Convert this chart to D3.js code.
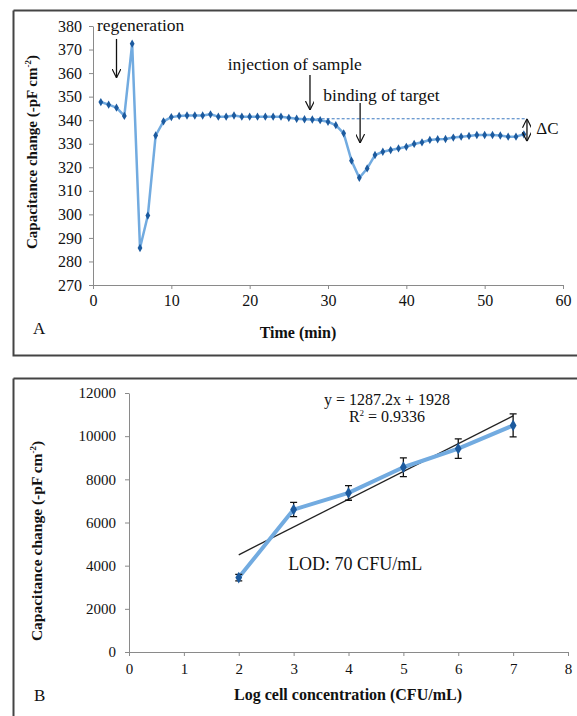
<!DOCTYPE html>
<html>
<head>
<meta charset="utf-8">
<script src="https://cdn.jsdelivr.net/npm/d3@7"></script>
<style>
	body { margin: 0; background: #fff; }
	svg text { font-family: "Liberation Serif", "Times New Roman", serif; fill: #111; }
</style>
</head>
<body>
<svg id="chart" width="577" height="716"></svg>
<script>
'use strict';

// Panel A: capacitance vs time
var timeMin = [1,2,3,4,5,6,7,8,9,10,11,12,13,14,15,16,17,18,19,20,21,22,23,24,25,26,27,28,
	29,30,31,32,33,34,35,36,37,38,39,40,41,42,43,44,45,46,47,48,49,50,51,52,53,54,55];
var capA = [347.7,346.6,345.3,341.8,372.5,285.7,299.5,333.5,339.5,341.3,341.8,342,342,342,342.5,
	341.5,341.5,342,341.5,341.5,341.5,341.5,341.5,341.5,341,340.6,340.4,340.3,340,339.3,337.9,
	334.4,322.8,315.5,319.5,325.2,326.6,327.3,328,328.7,329.9,330.6,331.6,331.9,332,332.6,333,
	333.3,333.7,333.7,333.7,333.5,333,333,334];
var ticksA_x = [0,10,20,30,40,50,60];
var ticksA_y = [270,280,290,300,310,320,330,340,350,360,370,380];
var baselineA = 340.6;     // dashed reference level
var baselineSpan = [26, 55.4];

// Panel B: calibration
var logConc = [2,3,4,5,6,7];
var capB = [3450,6600,7370,8560,9420,10500];
var errB = [150,330,340,430,450,530];
var ticksB_x = [0,1,2,3,4,5,6,7,8];
var ticksB_y = [0,2000,4000,6000,8000,10000,12000];
var fitSlope = 1287.2, fitIntercept = 1928;

var svg = d3.select('#chart');
var AXIS = '#8a8a8a', LINE = '#72abe0', MARK = '#1c5a9e';

// arrow head marker
var defs = svg.append('defs');
defs.append('marker')
	.attr('id','arrow')
	.attr('viewBox','0 0 10 10')
	.attr('refX',10).attr('refY',5)
	.attr('markerWidth',9).attr('markerHeight',9)
	.attr('markerUnits','userSpaceOnUse')
	.attr('orient','auto-start-reverse')
	.append('path')
		.attr('d','M0,0 L10,5 L0,10')
		.attr('fill','none')
		.attr('stroke','#111')
		.attr('stroke-width',1.3);

// panel frames
svg.append('path').attr('d','M13.5,10.5 H577 M13.5,10.5 V355.5 H577')
	.attr('fill','none').attr('stroke','#444').attr('stroke-width',2);
svg.append('path').attr('d','M13.5,378.5 H577 M13.5,378.5 V716')
	.attr('fill','none').attr('stroke','#444').attr('stroke-width',2);

function styleAxis(g, fontSize) {
	g.attr('font-family',null);
	g.select('.domain').attr('stroke',AXIS);
	g.selectAll('.tick line').attr('stroke',AXIS);
	g.selectAll('.tick text')
		.attr('font-size',fontSize).attr('fill','#222');
}

function yTitle(x, y, size) {
	var t = svg.append('text')
		.attr('transform','translate('+x+','+y+') rotate(-90)')
		.attr('text-anchor','middle')
		.attr('font-size',size).attr('font-weight','bold');
	t.append('tspan').text('Capacitance change (-pF cm');
	t.append('tspan').attr('font-size',9).attr('dy',-6).text('-2');
	t.append('tspan').attr('dy',6).text(')');
}

/***************************************
 * PANEL A
 ***************************************/
var xA = d3.scaleLinear().domain([0,60]).range([93,563]);
var yA = d3.scaleLinear().domain([270,380]).range([285,26]);

svg.append('g').attr('transform','translate(0,'+yA(270)+')')
	.call(d3.axisBottom(xA).tickValues(ticksA_x).tickSizeInner(4).tickSizeOuter(4).tickPadding(6))
	.call(styleAxis, 16);
svg.append('g').attr('transform','translate('+xA(0)+',0)')
	.call(d3.axisLeft(yA).tickValues(ticksA_y).tickSizeInner(4).tickSizeOuter(0).tickPadding(7))
	.call(styleAxis, 16);

// dashed reference
svg.append('line')
	.attr('x1',xA(baselineSpan[0])).attr('x2',xA(baselineSpan[1]))
	.attr('y1',yA(baselineA)).attr('y2',yA(baselineA))
	.attr('stroke','#3b78c0').attr('stroke-width',1).attr('stroke-dasharray','3,2');

var ptsA = timeMin.map(function(t,i){ return [t, capA[i]]; });
svg.append('path').datum(ptsA)
	.attr('fill','none').attr('stroke',LINE).attr('stroke-width',2.5)
	.attr('stroke-linejoin','round')
	.attr('d', d3.line().x(function(d){return xA(d[0]);}).y(function(d){return yA(d[1]);}));
svg.append('g').selectAll('path').data(ptsA).enter().append('path')
	.attr('d', d3.symbol(d3.symbolDiamond, 20))
	.attr('fill',MARK)
	.attr('transform',function(d){return 'translate('+xA(d[0])+','+yA(d[1])+')';});

// annotations
var notesA = [
	{text:'regeneration', tx:0.5, ty:377.9, ax:3.0, y1:374.5, y2:358},
	{text:'injection of sample', tx:17.2, ty:361.3, ax:27.7, y1:359.2, y2:344.3},
	{text:'binding of target', tx:29.4, ty:348.1, ax:34.1, y1:347.3, y2:330.3}
];
notesA.forEach(function(n) {
	svg.append('text').attr('x',xA(n.tx)).attr('y',yA(n.ty))
		.attr('font-size',17.5).text(n.text);
	svg.append('line')
		.attr('x1',xA(n.ax)).attr('x2',xA(n.ax))
		.attr('y1',yA(n.y1)).attr('y2',yA(n.y2))
		.attr('stroke','#111').attr('stroke-width',1.3)
		.attr('marker-end','url(#arrow)');
});
// delta C double arrow
svg.append('line')
	.attr('x1',xA(baselineSpan[1])).attr('x2',xA(baselineSpan[1]))
	.attr('y1',yA(baselineA)).attr('y2',yA(331))
	.attr('stroke','#111').attr('stroke-width',1.3)
	.attr('marker-start','url(#arrow)').attr('marker-end','url(#arrow)');
svg.append('text').attr('x',xA(56.6)).attr('y',yA(334.3))
	.attr('font-size',17).text('\u0394C');

yTitle(37, 152, 15);
svg.append('text').attr('x',298).attr('y',338).attr('text-anchor','middle')
	.attr('font-size',16).attr('font-weight','bold').text('Time (min)');
svg.append('text').attr('x',33).attr('y',334).attr('font-size',17).text('A');

/***************************************
 * PANEL B
 ***************************************/
var xB = d3.scaleLinear().domain([0,8]).range([129,568]);
var yB = d3.scaleLinear().domain([0,12000]).range([652,393]);

svg.append('g').attr('transform','translate(0,'+yB(0)+')')
	.call(d3.axisBottom(xB).tickValues(ticksB_x).tickSizeInner(4).tickSizeOuter(4).tickPadding(7))
	.call(styleAxis, 15);
svg.append('g').attr('transform','translate('+xB(0)+',0)')
	.call(d3.axisLeft(yB).tickValues(ticksB_y).tickFormat(d3.format('d'))
		.tickSizeInner(4).tickSizeOuter(0).tickPadding(9))
	.call(styleAxis, 15);

// linear fit
svg.append('line')
	.attr('x1',xB(logConc[0])).attr('y1',yB(fitSlope*logConc[0]+fitIntercept))
	.attr('x2',xB(logConc[logConc.length-1])).attr('y2',yB(fitSlope*logConc[logConc.length-1]+fitIntercept))
	.attr('stroke','#222').attr('stroke-width',1.3);

var ptsB = logConc.map(function(x,i){ return {x:x, y:capB[i], e:errB[i]}; });
svg.append('path').datum(ptsB)
	.attr('fill','none').attr('stroke',LINE).attr('stroke-width',4)
	.attr('stroke-linejoin','round')
	.attr('d', d3.line().x(function(d){return xB(d.x);}).y(function(d){return yB(d.y);}));

var eb = svg.append('g').selectAll('g').data(ptsB).enter().append('g');
eb.append('path')
	.attr('d',function(d){
		var x = xB(d.x), t = yB(d.y+d.e), b = yB(d.y-d.e);
		return 'M'+(x-3.5)+','+t+' H'+(x+3.5)+' M'+x+','+t+' V'+b+' M'+(x-3.5)+','+b+' H'+(x+3.5);
	})
	.attr('stroke','#111').attr('stroke-width',1.3).attr('fill','none');
eb.append('path')
	.attr('d', d3.symbol(d3.symbolDiamond, 40))
	.attr('fill',MARK)
	.attr('transform',function(d){return 'translate('+xB(d.x)+','+yB(d.y)+')';});

svg.append('text').attr('x',387).attr('y',yB(11450)).attr('text-anchor','middle')
	.attr('font-size',16).text('y = ' + fitSlope + 'x + ' + fitIntercept);
var r2 = svg.append('text').attr('x',387).attr('y',yB(10650)).attr('text-anchor','middle')
	.attr('font-size',16);
r2.append('tspan').text('R');
r2.append('tspan').attr('font-size',9).attr('dy',-6).text('2');
r2.append('tspan').attr('dy',6).text(' = 0.9336');

svg.append('text').attr('x',xB(2.9)).attr('y',yB(3800))
	.attr('font-size',18).text('LOD: 70 CFU/mL');

yTitle(42, 541, 15.5);
svg.append('text').attr('x',348).attr('y',700).attr('text-anchor','middle')
	.attr('font-size',16).attr('font-weight','bold').text('Log cell concentration (CFU/mL)');
svg.append('text').attr('x',34).attr('y',701).attr('font-size',17).text('B');
</script>
</body>
</html>
